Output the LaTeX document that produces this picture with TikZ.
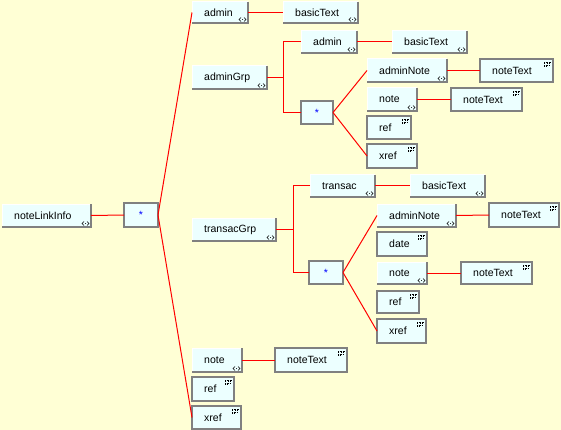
\documentclass[tikz,border=0pt]{standalone}
\usepackage{fontspec}
\setmainfont{Liberation Sans}
\definecolor{bg}{RGB}{255,255,213}
\definecolor{boxbg}{RGB}{236,255,255}
\definecolor{edge}{RGB}{128,128,128}
\tikzset{
 boxfill/.style={fill=boxbg, inner sep=0pt, outer sep=0pt, anchor=north west},
 hi/.style={draw=white, line width=1pt},
 lo/.style={draw=edge, line width=1.5pt},
 flatbox/.style={boxfill, draw=edge, line width=1.5pt},
 lbl/.style={font=\fontsize{10.5}{12}\selectfont, inner sep=0pt, anchor=west},
 conn/.style={draw=red, line width=1pt},
 ico/.style={draw=black, line width=0.6pt},
 dico/.style={draw=black, line width=0.8pt, dash pattern=on 0.8pt off 0.8pt}
}
\newcommand{\cplxbox}[6]{%
 \node[boxfill, minimum width=#4pt, minimum height=#5pt] (#1) at (#2,#3) {};
 \draw[hi] (#1.south west) |- (#1.north east);
 \draw[lo] (#1.south west) -- (#1.south east) -- (#1.north east);
 \node[lbl] (#1-t) at ([xshift=12pt]#1.west) {#6};
 \draw[ico] ([shift={(-7pt,5.5pt)}]#1.south east) -- ++(-2pt,-2pt) -- ++(2pt,-2pt)
   ([shift={(-4pt,5.5pt)}]#1.south east) -- ++(2pt,-2pt) -- ++(-2pt,-2pt);
 \fill ([shift={(-5.5pt,3.5pt)}]#1.south east) circle (0.5pt);
}
\newcommand{\smplbox}[6]{%
 \node[flatbox, minimum width=#4pt, minimum height=#5pt] (#1) at (#2,#3) {};
 \node[lbl] (#1-t) at ([xshift=12pt]#1.west) {#6};
 \draw[dico] ([shift={(-9pt,-3pt)}]#1.north east) -- ++(7pt,0pt);
 \draw[dico] ([shift={(-9pt,-4.6pt)}]#1.north east) -- ++(1pt,0pt) ++(2pt,0pt) -- ++(3pt,0pt);
 \draw[dico] ([shift={(-9pt,-6.2pt)}]#1.north east) -- ++(5pt,0pt);
 \draw[dico] ([shift={(-9pt,-7.8pt)}]#1.north east) -- ++(3pt,0pt);
}
\newcommand{\grpbox}[5]{%
 \node[flatbox, minimum width=#4pt, minimum height=#5pt] (#1) at (#2,#3) {};
 \node[font=\fontsize{10.5}{12}\selectfont, text=blue, inner sep=0pt] (#1-t) at (#1.center) {*};
}
\begin{document}
\begin{tikzpicture}[x=1pt,y=-1pt]
\fill[bg] (0,0) rectangle (561,430);
\useasboundingbox (0,0) rectangle (561,430);

% root
\cplxbox{root}{2}{204}{89}{23}{noteLinkInfo}
\grpbox{s1}{124}{203}{34}{24}

% top-level children
\cplxbox{a1}{192}{2}{56}{21}{admin}
\cplxbox{bt1}{283}{2}{75}{21}{basicText}
\cplxbox{ag}{192}{66}{75}{23}{adminGrp}
\cplxbox{tg}{192}{218}{84}{23}{transacGrp}
\cplxbox{n1}{192}{348}{50}{24}{note}
\smplbox{nt1}{275}{348}{72}{24}{noteText}
\smplbox{r1}{192}{377}{42}{24}{ref}
\smplbox{x1}{192}{406}{49}{23}{xref}

% adminGrp
\cplxbox{a2}{301}{31}{56}{22}{admin}
\cplxbox{bt2}{392}{31}{75}{22}{basicText}
\grpbox{s2}{301}{101}{32}{23}
\cplxbox{an2}{367}{59}{80}{23}{adminNote}
\smplbox{nt2a}{480}{59}{73}{23}{noteText}
\cplxbox{n2}{367}{88}{50}{23}{note}
\smplbox{nt2b}{451}{88}{71}{23}{noteText}
\smplbox{r2}{367}{116}{44}{23}{ref}
\smplbox{x2}{367}{144}{50}{24}{xref}

% transacGrp
\cplxbox{tr}{310}{175}{65}{22}{transac}
\cplxbox{bt3}{410}{175}{75}{22}{basicText}
\grpbox{s3}{309}{261}{34}{23}
\cplxbox{an3}{377}{204}{79}{23}{adminNote}
\smplbox{nt3a}{489}{203}{70}{24}{noteText}
\smplbox{d3}{377}{232}{50}{24}{date}
\cplxbox{n3}{377}{262}{50}{22}{note}
\smplbox{nt3b}{461}{262}{71}{22}{noteText}
\smplbox{r3}{377}{291}{42}{22}{ref}
\smplbox{x3}{377}{319}{49}{24}{xref}

% connectors
\draw[conn] (root.east) -- (s1.west);
\draw[conn] (s1.east) -- (a1.west);
\draw[conn] (s1.east) -- (x1.west);
\draw[conn] (a1.east) -- (bt1.west);
\draw[conn] (n1.east) -- (nt1.west);

\coordinate (j1) at ([xshift=16pt]ag.east);
\draw[conn] (ag.east) -- (j1);
\draw[conn] (a2.west) -| (j1);
\draw[conn] (s2.west) -| (j1);
\draw[conn] (a2.east) -- (bt2.west);
\draw[conn] (s2.east) -- (an2.west);
\draw[conn] (s2.east) -- (x2.west);
\draw[conn] (an2.east) -- (nt2a.west);
\draw[conn] (n2.east) -- (nt2b.west);

\coordinate (j2) at ([xshift=17pt]tg.east);
\draw[conn] (tg.east) -- (j2);
\draw[conn] (tr.west) -| (j2);
\draw[conn] (s3.west) -| (j2);
\draw[conn] (tr.east) -- (bt3.west);
\draw[conn] (s3.east) -- (an3.west);
\draw[conn] (s3.east) -- (x3.west);
\draw[conn] (an3.east) -- (nt3a.west);
\draw[conn] (n3.east) -- (nt3b.west);
\end{tikzpicture}
\end{document}
